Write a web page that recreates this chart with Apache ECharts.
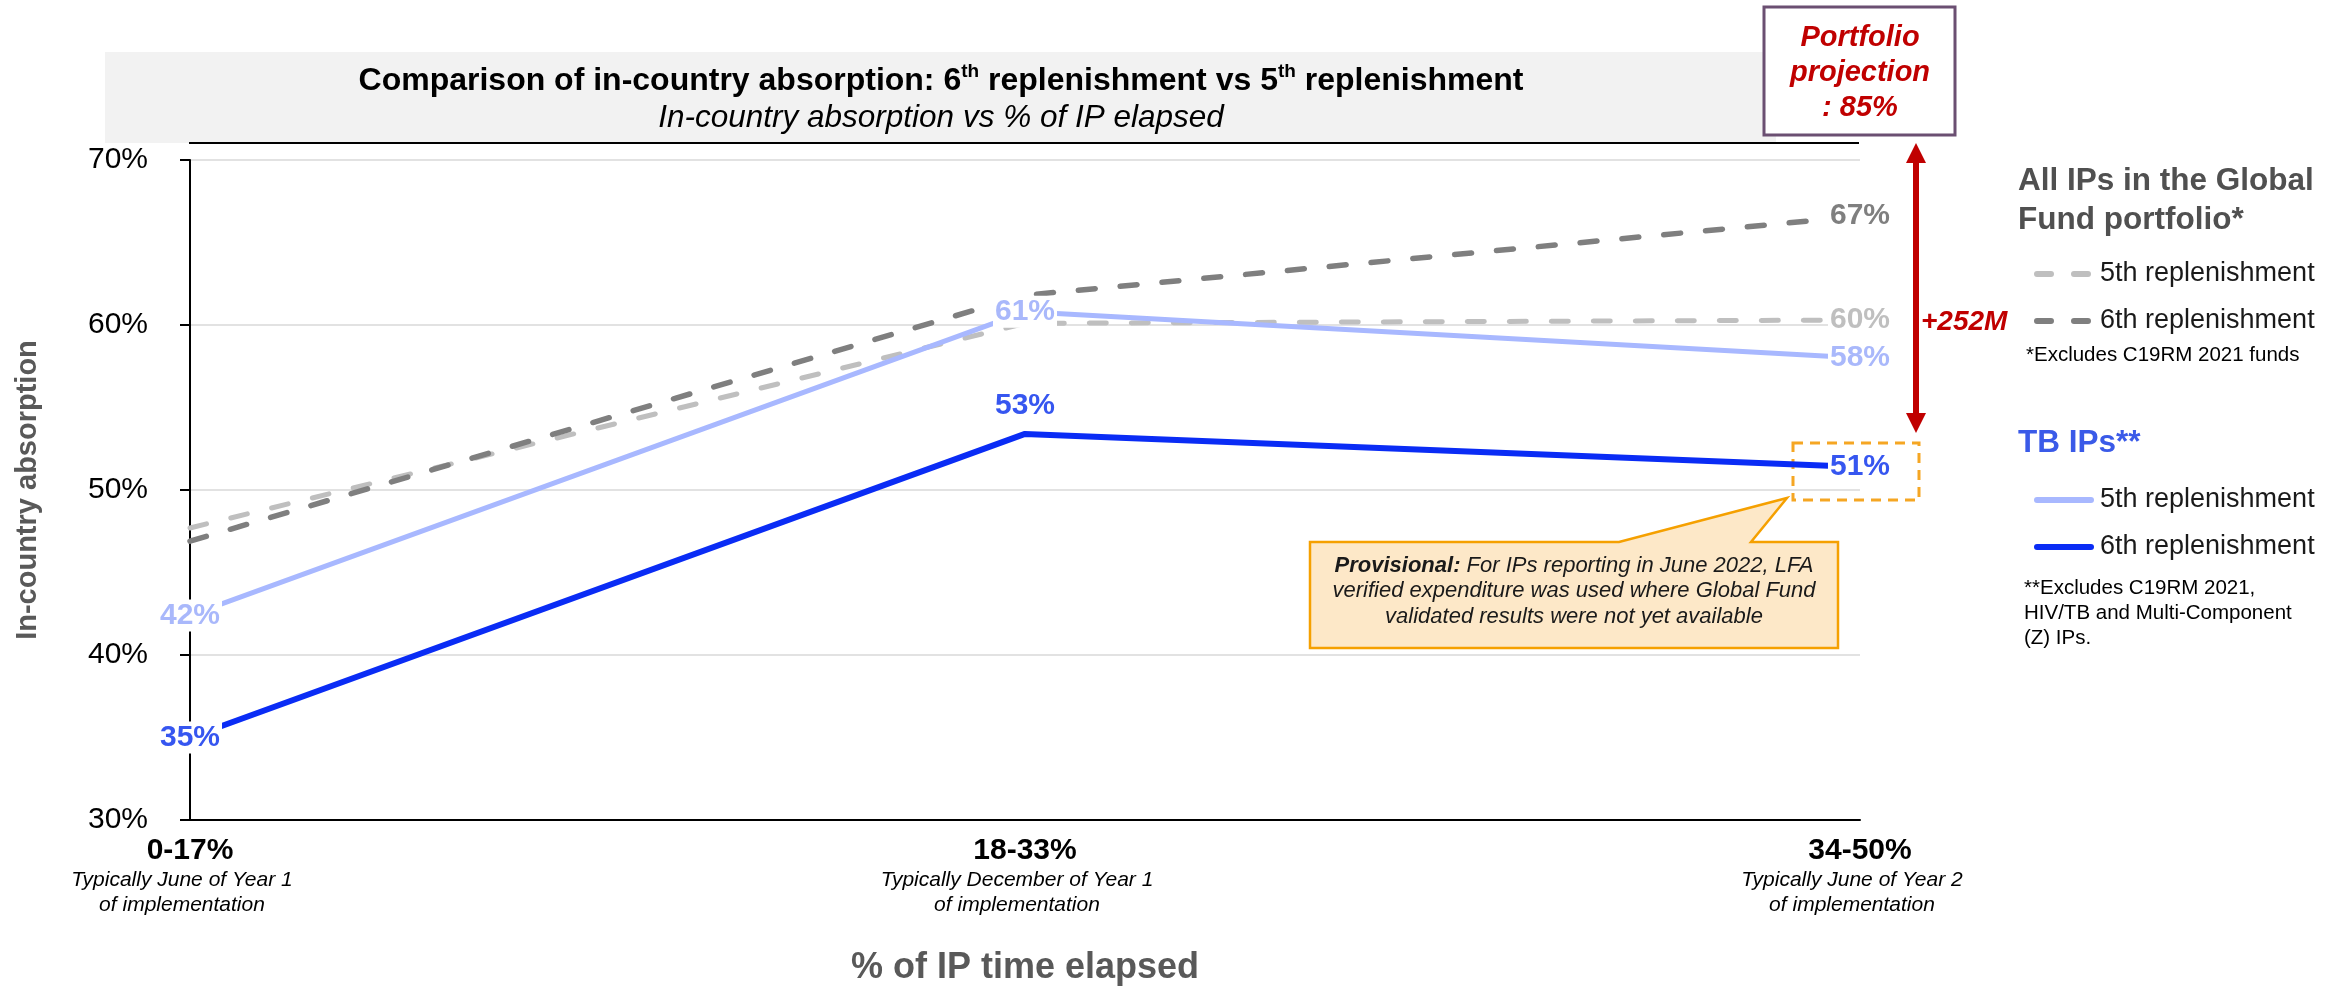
<!DOCTYPE html>
<html>
<head>
<meta charset="utf-8">
<script src="https://cdn.jsdelivr.net/npm/echarts@6/dist/echarts.min.js"></script>
<style>
html,body{margin:0;padding:0;background:#fff;}
#chart{width:2349px;height:991px;}
</style>
</head>
<body>
<div id="chart"></div>
<script>
// ---- data ----
const categories = ['0-17%', '18-33%', '34-50%'];
const catSub1 = ['Typically June of Year 1', 'Typically December of Year 1', 'Typically June of Year 2'];
const catSub2 = ['of implementation', 'of implementation', 'of implementation'];
const allIPs5 = [47.7, 60.1, 60.3];
const allIPs6 = [46.9, 61.8, 66.6];
const tb5 = [42.4, 60.8, 58.0];
const tb6 = [35.0, 53.4, 51.4];
const yMin = 30, yMax = 70, yStep = 10;

const FF = "'Liberation Sans', Arial, sans-serif";
const chart = echarts.init(document.getElementById('chart'));

function mkData(arr, showIdx, posMap) {
  return arr.map((v, i) => ({
    value: v,
    label: Object.assign({ show: showIdx.indexOf(i) >= 0 }, (posMap && posMap[i]) || {})
  }));
}
function lbl(color) {
  return {
    position: 'inside',
    fontFamily: FF, fontSize: 30, fontWeight: 'bold', color: color,
    backgroundColor: '#fff', padding: [1, 2],
    formatter: p => Math.round(p.value) + '%'
  };
}
const hiddenSym = { symbol: 'circle', symbolSize: 1, showSymbol: true, itemStyle: { color: 'rgba(0,0,0,0)' } };
const legendText = { fontFamily: FF, fontSize: 27, color: '#1a1a1a', lineHeight: 30, padding: [0, 0, 0, 4] };

const option = {
  animation: false,
  backgroundColor: '#fff',
  grid: { left: 190, right: 489, top: 160, bottom: 164, containLabel: false },
  xAxis: {
    type: 'category', data: categories, boundaryGap: false,
    axisLine: { show: true, lineStyle: { color: '#000', width: 2 } },
    axisTick: { show: false },
    splitLine: { show: false },
    axisLabel: {
      interval: 0, margin: 14,
      formatter: (v, i) => '{b|' + v + '}\n{s|' + catSub1[i] + '}\n{s|' + catSub2[i] + '}',
      rich: {
        b: { fontFamily: FF, fontSize: 30, fontWeight: 'bold', color: '#000', lineHeight: 34 },
        s: { fontFamily: FF, fontSize: 21, fontStyle: 'italic', color: '#000', lineHeight: 25, padding: [0, 16, 0, 0] }
      }
    },
    name: '% of IP time elapsed', nameLocation: 'middle', nameGap: 130,
    nameTextStyle: { fontFamily: FF, fontSize: 36, fontWeight: 'bold', color: '#595959' }
  },
  yAxis: {
    type: 'value', min: yMin, max: yMax, interval: yStep,
    axisLine: { show: true, lineStyle: { color: '#000', width: 2 } },
    axisTick: { show: true, length: 10, lineStyle: { color: '#000', width: 2 } },
    splitLine: { show: true, lineStyle: { color: '#d9d9d9', width: 1.5 } },
    axisLabel: { formatter: '{value}%', fontFamily: FF, fontSize: 30, color: '#000', margin: 42 },
    name: 'In-country absorption', nameLocation: 'middle', nameGap: 148, nameRotate: 90,
    nameTextStyle: { fontFamily: FF, fontSize: 29, fontWeight: 'bold', color: '#595959', padding: [0, 0, 0, 0] }
  },
  legend: [{
    data: ['All IPs: 5th replenishment', 'All IPs: 6th replenishment'],
    orient: 'vertical', left: 2029, top: 254, itemWidth: 54, itemHeight: 14, itemGap: 17,
    selectedMode: false,
    lineStyle: { width: 6, type: [14, 23], cap: 'round' },
    formatter: n => n.split(': ')[1],
    textStyle: legendText
  }, {
    data: ['TB IPs: 5th replenishment', 'TB IPs: 6th replenishment'],
    orient: 'vertical', left: 2029, top: 480, itemWidth: 54, itemHeight: 14, itemGap: 17,
    selectedMode: false,
    lineStyle: { width: 6, type: 'solid', cap: 'round' },
    formatter: n => n.split(': ')[1],
    textStyle: legendText
  }],
  series: [
    Object.assign({
      name: 'All IPs: 5th replenishment', type: 'line',
      lineStyle: { color: '#bfbfbf', width: 5, type: [17, 25], cap: 'round' },
      data: mkData(allIPs5, [2]), label: lbl('#bfbfbf')
    }, hiddenSym),
    Object.assign({
      name: 'All IPs: 6th replenishment', type: 'line',
      lineStyle: { color: '#7f7f7f', width: 5.5, type: [17, 25], cap: 'round' },
      data: mkData(allIPs6, [2]), label: lbl('#7f7f7f')
    }, hiddenSym),
    Object.assign({
      name: 'TB IPs: 5th replenishment', type: 'line',
      lineStyle: { color: '#a8b8ff', width: 5 },
      data: mkData(tb5, [0, 1, 2]), label: lbl('#a9b8fb')
    }, hiddenSym),
    Object.assign({
      name: 'TB IPs: 6th replenishment', type: 'line',
      lineStyle: { color: '#0a2cf5', width: 6 },
      data: mkData(tb6, [0, 1, 2], { 1: { position: 'top', distance: 12 } }), label: lbl('#3656f0')
    }, hiddenSym)
  ],
  graphic: [
    { type: 'rect', z: -10, shape: { x: 105, y: 52, width: 1671, height: 91 }, style: { fill: '#f2f2f2' } },
    { type: 'line', shape: { x1: 189, y1: 143, x2: 1859, y2: 143 }, style: { stroke: '#000', lineWidth: 2 } },
    { type: 'text', x: 941, y: 81, style: {
        text: '{m|Comparison of in-country absorption: 6}{s|th}{m| replenishment vs 5}{s|th}{m| replenishment}',
        align: 'center', verticalAlign: 'middle',
        rich: {
          m: { fontFamily: FF, fontSize: 32, fontWeight: 'bold', fill: '#000', lineHeight: 38 },
          s: { fontFamily: FF, fontSize: 19, fontWeight: 'bold', fill: '#000', lineHeight: 22, verticalAlign: 'top' }
        }
    } },
    { type: 'text', x: 941, y: 118, style: {
        text: 'In-country absorption vs % of IP elapsed', align: 'center', verticalAlign: 'middle',
        font: 'italic 31.5px ' + FF, fill: '#000'
    } },
    { type: 'rect', shape: { x: 1764, y: 7, width: 191, height: 128 }, style: { fill: '#fff', stroke: '#6b4f72', lineWidth: 3 } },
    { type: 'text', x: 1860, y: 73, style: {
        text: 'Portfolio\nprojection\n: 85%', align: 'center', verticalAlign: 'middle',
        font: 'italic bold 29px ' + FF, fill: '#c00000', lineHeight: 35
    } },
    { type: 'line', shape: { x1: 1916, y1: 160, x2: 1916, y2: 416 }, style: { stroke: '#c00000', lineWidth: 6 } },
    { type: 'polygon', shape: { points: [[1916, 143], [1926, 163], [1906, 163]] }, style: { fill: '#c00000' } },
    { type: 'polygon', shape: { points: [[1916, 433], [1926, 413], [1906, 413]] }, style: { fill: '#c00000' } },
    { type: 'text', x: 1921, y: 322, style: {
        text: '+252M', align: 'left', verticalAlign: 'middle', font: 'italic bold 28px ' + FF, fill: '#c00000'
    } },
    { type: 'text', x: 2018, y: 201, style: {
        text: 'All IPs in the Global\nFund portfolio*', align: 'left', verticalAlign: 'middle',
        font: 'bold 31.5px ' + FF, fill: '#505050', lineHeight: 39
    } },
    { type: 'text', x: 2026, y: 355, style: {
        text: '*Excludes C19RM 2021 funds', align: 'left', verticalAlign: 'middle', font: '20.5px ' + FF, fill: '#000'
    } },
    { type: 'text', x: 2018, y: 443, style: {
        text: 'TB IPs**', align: 'left', verticalAlign: 'middle', font: 'bold 31.5px ' + FF, fill: '#3a5ae8'
    } },
    { type: 'text', x: 2024, y: 613, style: {
        text: '**Excludes C19RM 2021,\nHIV/TB and Multi-Component\n(Z) IPs.', align: 'left', verticalAlign: 'middle',
        font: '20.5px ' + FF, fill: '#000', lineHeight: 25
    } },
    { type: 'rect', shape: { x: 1793, y: 443, width: 126, height: 57 }, style: { fill: 'none', stroke: '#f5a623', lineWidth: 3, lineDash: [10, 7] } },
    { type: 'polygon', shape: { points: [[1310, 542], [1619, 542], [1787, 498], [1751, 542], [1838, 542], [1838, 648], [1310, 648]] },
      style: { fill: '#fde8c8', stroke: '#f5a000', lineWidth: 2.5 } },
    { type: 'text', x: 1574, y: 591, style: {
        text: '{b|Provisional:}{i| For IPs reporting in June 2022, LFA}\n{i|verified expenditure was used where Global Fund}\n{i|validated results were not yet available}',
        align: 'center', verticalAlign: 'middle',
        rich: {
          b: { fontFamily: FF, fontSize: 22, fontWeight: 'bold', fontStyle: 'italic', fill: '#1a1a1a', lineHeight: 25.5 },
          i: { fontFamily: FF, fontSize: 22, fontStyle: 'italic', fill: '#1a1a1a', lineHeight: 25.5 }
        }
    } }
  ]
};
chart.setOption(option);
</script>
</body>
</html>
